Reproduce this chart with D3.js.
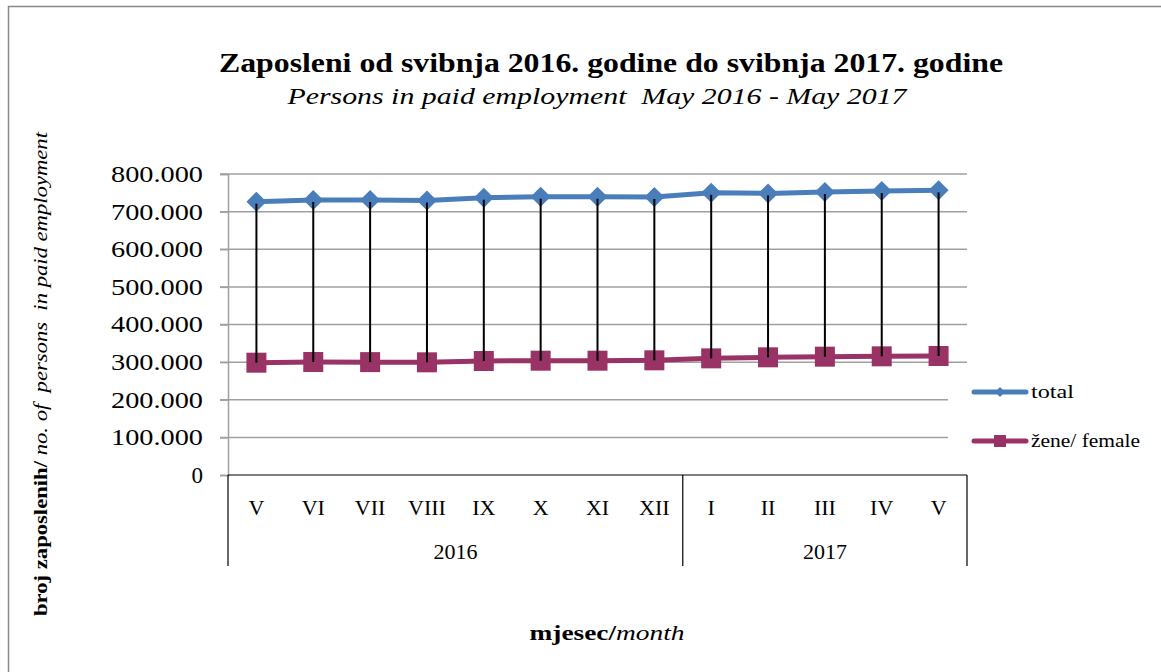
<!DOCTYPE html>
<html>
<head>
<meta charset="utf-8">
<script src="https://cdn.jsdelivr.net/npm/d3@7"></script>
<style>
  body { margin: 0; background: #fff; }
  svg text { font-family: "Liberation Serif", "DejaVu Serif", serif; }
</style>
</head>
<body>
<div id="chart"></div>
<script>
// ***************************** DATA *****************************
var months = ["V", "VI", "VII", "VIII", "IX", "X", "XI", "XII", "I", "II", "III", "IV", "V"];
var years = [
  {label: "2016", from: 0, to: 7},
  {label: "2017", from: 8, to: 12}
];
var totalValues = [726400, 731000, 731000, 729500, 737000, 739500, 739500, 739000,
                   750000, 748500, 752000, 754500, 756500];
var femaleValues = [298500, 300300, 300000, 299500, 303000, 303800, 303800, 304800,
                    310000, 312800, 314500, 315400, 316300];
var yTicks = [0, 100000, 200000, 300000, 400000, 500000, 600000, 700000, 800000];
var seriesNames = ["total", "žene/ female"];

// ***************************** CANVAS *****************************
var svgWidth = 1161, svgHeight = 672;
var margin = {left: 228, top: 174, right: 194, bottom: 197};
var chartWidth = svgWidth - margin.left - margin.right,   // 739
    chartHeight = svgHeight - margin.top - margin.bottom; // 301

var svg = d3.select("#chart").append("svg")
  .attr("width", svgWidth)
  .attr("height", svgHeight);

// outer frame (right/bottom run off the picture)
svg.append("rect")
  .attr("x", 8.5).attr("y", 6.5)
  .attr("width", 1170).attr("height", 700)
  .attr("fill", "none").attr("stroke", "#888").attr("stroke-width", 1.5);

var chart = svg.append("g")
  .attr("transform", `translate(${margin.left}, ${margin.top})`);

// ***************************** SCALES *****************************
var x = d3.scaleBand()
  .domain(d3.range(months.length))
  .range([0, chartWidth]);

var y = d3.scaleLinear()
  .domain([0, 800000])
  .range([chartHeight, 0]);

// ***************************** GRID + AXES *****************************
chart.append("g")
  .selectAll("line")
  .data(yTicks.slice(1))
  .enter().append("line")
    .attr("x1", -8).attr("x2", chartWidth)
    .attr("y1", d => y(d)).attr("y2", d => y(d))
    .attr("stroke", "#a0a0a0").attr("stroke-width", 1.5);

var yAxis = d3.axisLeft(y)
  .tickValues(yTicks)
  .tickSize(8)
  .tickPadding(17)
  .tickFormat(d => d3.format(",")(d).replace(/,/g, "."));

chart.append("g")
  .call(yAxis)
  .attr("font-family", null)
  .call(g => g.select(".domain").attr("stroke", "#a0a0a0").attr("stroke-width", 1.5))
  .call(g => g.selectAll(".tick line").attr("stroke", "#a0a0a0").attr("stroke-width", 1.5))
  .call(g => g.selectAll("text")
    .style("font-size", "23px")
    .attr("fill", "#000")
    .filter(d => d > 0)
    .attr("textLength", 92).attr("lengthAdjust", "spacingAndGlyphs"));

// category axis (two levels)
var catAxis = chart.append("g").attr("transform", `translate(0, ${chartHeight})`);
catAxis.append("line")
  .attr("x1", 0).attr("x2", chartWidth)
  .attr("stroke", "#000").attr("stroke-width", 1.2);

var sepX = [0, x(8), chartWidth];
catAxis.selectAll("line.sep")
  .data(sepX)
  .enter().append("line")
    .attr("class", "sep")
    .attr("x1", d => d).attr("x2", d => d)
    .attr("y1", 0).attr("y2", 91)
    .attr("stroke", "#000").attr("stroke-width", 1.2);

catAxis.selectAll("text.month")
  .data(months)
  .enter().append("text")
    .attr("class", "month")
    .attr("x", (d, i) => x(i) + x.bandwidth() / 2)
    .attr("y", 40)
    .attr("text-anchor", "middle")
    .style("font-size", "22px")
    .text(d => d);

catAxis.selectAll("text.year")
  .data(years)
  .enter().append("text")
    .attr("class", "year")
    .attr("x", d => (x(d.from) + x(d.to) + x.bandwidth()) / 2)
    .attr("y", 84)
    .attr("text-anchor", "middle")
    .style("font-size", "22px")
    .text(d => d.label);

// ***************************** MARKS *****************************
var cx = i => x(i) + x.bandwidth() / 2;

var line = d3.line()
  .x((d, i) => cx(i))
  .y(d => y(d));

chart.append("path")
  .datum(totalValues)
  .attr("d", line)
  .attr("fill", "none").attr("stroke", "#4a7ebb").attr("stroke-width", 5)
  .attr("stroke-linejoin", "round");

chart.append("path")
  .datum(femaleValues)
  .attr("d", line)
  .attr("fill", "none").attr("stroke", "#993366").attr("stroke-width", 5)
  .attr("stroke-linejoin", "round");

chart.append("g")
  .selectAll("path")
  .data(totalValues)
  .enter().append("path")
    .attr("transform", (d, i) => `translate(${cx(i)}, ${y(d)})`)
    .attr("d", "M0,-10L10,0L0,10L-10,0Z")
    .attr("fill", "#4a7ebb");

chart.append("g")
  .selectAll("rect")
  .data(femaleValues)
  .enter().append("rect")
    .attr("x", (d, i) => cx(i) - 10)
    .attr("y", d => y(d) - 10)
    .attr("width", 20).attr("height", 20)
    .attr("fill", "#993366");

// high-low lines, drawn over the markers as in the reference
chart.append("g")
  .selectAll("line")
  .data(totalValues)
  .enter().append("line")
    .attr("x1", (d, i) => cx(i)).attr("x2", (d, i) => cx(i))
    .attr("y1", d => y(d) + 2)
    .attr("y2", (d, i) => y(femaleValues[i]))
    .attr("stroke", "#000").attr("stroke-width", 2);

// ***************************** LEGEND *****************************
var legend = svg.append("g");
legend.append("rect")
  .attr("x", 948).attr("y", 372)
  .attr("width", 200).attr("height", 88)
  .attr("fill", "#fff");

var legendY = [392, 441];
var legendColors = ["#4a7ebb", "#993366"];
var legendWidths = [43, 109];
seriesNames.forEach(function(name, i) {
  var g = legend.append("g").attr("transform", `translate(0, ${legendY[i]})`);
  g.append("line")
    .attr("x1", 974).attr("x2", 1026)
    .attr("stroke", legendColors[i]).attr("stroke-width", 5)
    .attr("stroke-linecap", "round");
  if (i === 0) {
    g.append("path").attr("d", "M1000,-5L1005,0L1000,5L995,0Z").attr("fill", legendColors[i]);
  } else {
    g.append("rect").attr("x", 994).attr("y", -6).attr("width", 12).attr("height", 12)
      .attr("fill", legendColors[i]);
  }
  g.append("text")
    .attr("x", 1031).attr("y", 6)
    .style("font-size", "19px")
    .attr("textLength", legendWidths[i]).attr("lengthAdjust", "spacingAndGlyphs")
    .text(name);
});

// ***************************** TITLES *****************************
svg.append("text")
  .attr("x", 611).attr("y", 72)
  .attr("text-anchor", "middle")
  .style("font-size", "27px").attr("font-weight", "bold")
  .attr("textLength", 784).attr("lengthAdjust", "spacingAndGlyphs")
  .text("Zaposleni od svibnja 2016. godine do svibnja 2017. godine");

svg.append("text")
  .attr("x", 597).attr("y", 104)
  .attr("text-anchor", "middle")
  .style("font-size", "24px").attr("font-style", "italic")
  .style("white-space", "pre")
  .attr("textLength", 619).attr("lengthAdjust", "spacingAndGlyphs")
  .text("Persons in paid employment  May 2016 - May 2017");

var xTitle = svg.append("text")
  .attr("x", 607).attr("y", 640)
  .attr("text-anchor", "middle")
  .style("font-size", "22px")
  .attr("textLength", 155).attr("lengthAdjust", "spacingAndGlyphs");
xTitle.append("tspan").attr("font-weight", "bold").text("mjesec/");
xTitle.append("tspan").attr("font-style", "italic").text("month");

var yTitle = svg.append("text")
  .attr("transform", "translate(47, 374) rotate(-90)")
  .attr("text-anchor", "middle")
  .style("font-size", "19px")
  .style("white-space", "pre")
  .attr("textLength", 484).attr("lengthAdjust", "spacingAndGlyphs");
yTitle.append("tspan").attr("font-weight", "bold").text("broj zaposlenih/");
yTitle.append("tspan").attr("font-style", "italic").text(" no. of  persons  in paid employment");
</script>
</body>
</html>
